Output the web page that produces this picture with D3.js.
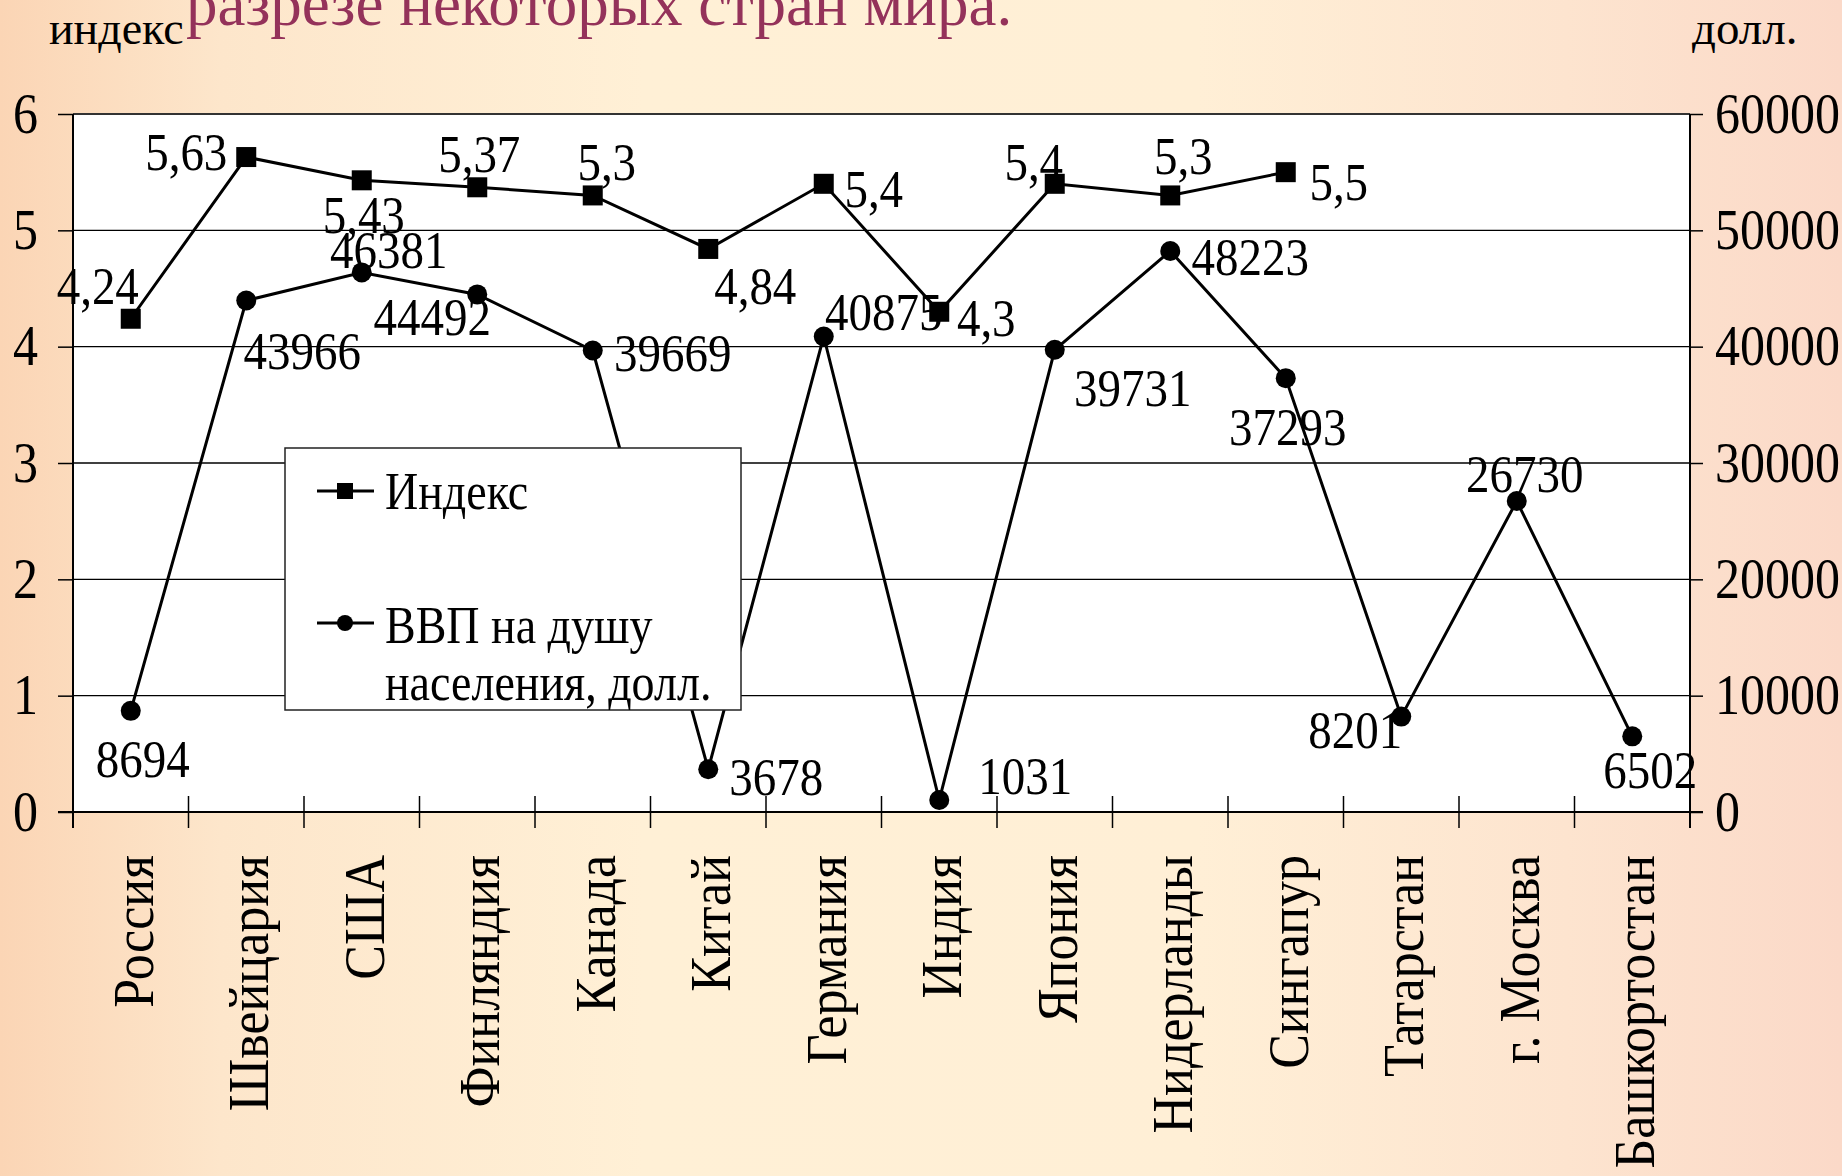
<!DOCTYPE html>
<html>
<head>
<meta charset="utf-8">
<script src="https://cdn.jsdelivr.net/npm/d3@7"></script>
<style>
  html, body { margin: 0; padding: 0; overflow: hidden; }
  svg { display: block; }
  text { font-family: "Liberation Serif", "Times New Roman", serif; fill: #000; }
</style>
</head>
<body>
<svg id="chart" width="1842" height="1176"></svg>
<script>
// ---------------- data ----------------
const categories = ["Россия", "Швейцария", "США", "Финляндия", "Канада", "Китай", "Германия",
  "Индия", "Япония", "Нидерланды", "Сингапур", "Татарстан", "г. Москва", "Башкортостан"];
const indexValues = [4.24, 5.63, 5.43, 5.37, 5.3, 4.84, 5.4, 4.3, 5.4, 5.3, 5.5, null, null, null];
const gdpValues = [8694, 43966, 46381, 44492, 39669, 3678, 40875, 1031, 39731, 48223, 37293, 8201, 26730, 6502];
const leftTicks = [0, 1, 2, 3, 4, 5, 6];
const rightTicks = [0, 10000, 20000, 30000, 40000, 50000, 60000];
const titleText = "разрезе некоторых стран мира.";
const leftAxisTitle = "индекс";
const rightAxisTitle = "долл.";
const legendIndex = "Индекс";
const legendGdp = ["ВВП на душу", "населения, долл."];

// label offsets (pixels) relative to the marker
const indexLabelOffsets = [[-33,-33],[-60,-6],[2,34],[2,-34],[14,-34],[47,36],[50,5],[47,6],[-21,-22],[13,-40],[53,9]];
const gdpLabelOffsets = [[12,48],[56,50],[27,-23],[-45,22],[80,2],[68,7],[60,-25],[86,-25],[78,38],[80,5],[2,48],[-46,13],[8,-28],[18,33]];

// ---------------- layout ----------------
const W = 1842, H = 1176;
const L = 73, R = 1690, T = 114, B = 812;
const SY = 1.13; // vertical stretch of the original slide's text
const svg = d3.select("#chart");

// background
const defs = svg.append("defs");
const bg = defs.append("linearGradient").attr("id", "bg").attr("x1", "0").attr("x2", "1").attr("y1", "0").attr("y2", "0");
[["0%", "#fbd5b5"], ["12%", "#fde6cb"], ["35%", "#fff0d6"], ["65%", "#ffefd6"], ["85%", "#fde4cf"], ["100%", "#fbd9c8"]]
  .forEach(([o, c]) => bg.append("stop").attr("offset", o).attr("stop-color", c));
svg.append("rect").attr("width", W).attr("height", H).attr("fill", "url(#bg)");

// scales
const x = d3.scaleBand().domain(categories).range([L, R]).padding(0);
const yL = d3.scaleLinear().domain([0, 6]).range([B, T]);
const yR = d3.scaleLinear().domain([0, 60000]).range([B, T]);
const cx = c => x(c) + x.bandwidth() / 2;

// plot area
svg.append("rect").attr("x", L).attr("y", T).attr("width", R - L).attr("height", B - T).attr("fill", "#fff");

// gridlines
svg.append("g").selectAll("line").data(leftTicks.filter(d => d > 0)).join("line")
  .attr("x1", L).attr("x2", R).attr("y1", d => yL(d)).attr("y2", d => yL(d))
  .attr("stroke", d => d === 6 ? "#333" : "#000").attr("stroke-width", d => d === 6 ? 2 : 1.3);

// left axis
const gl = svg.append("g").attr("transform", `translate(${L},0)`)
  .call(d3.axisLeft(yL).tickValues(leftTicks).tickSize(15).tickPadding(20).tickFormat(d3.format("d")));
gl.select(".domain").remove();
gl.selectAll(".tick line").attr("stroke", "#000").attr("stroke-width", 1.5);
gl.selectAll(".tick text").attr("font-size", 50).attr("font-family", "Liberation Serif").attr("fill", "#000")
  .attr("transform", `scale(1,${SY})`);

// right axis
const gr = svg.append("g").attr("transform", `translate(${R},0)`)
  .call(d3.axisRight(yR).tickValues(rightTicks).tickSize(13).tickPadding(12).tickFormat(d3.format("d")));
gr.select(".domain").remove();
gr.selectAll(".tick line").attr("stroke", "#000").attr("stroke-width", 1.5);
gr.selectAll(".tick text").attr("font-size", 50).attr("font-family", "Liberation Serif").attr("fill", "#000")
  .attr("transform", `scale(1,${SY})`);

// axis lines
svg.append("line").attr("x1", L).attr("x2", L).attr("y1", T).attr("y2", B + 16).attr("stroke", "#000").attr("stroke-width", 2);
svg.append("line").attr("x1", R).attr("x2", R).attr("y1", T).attr("y2", B + 16).attr("stroke", "#000").attr("stroke-width", 2);
svg.append("line").attr("x1", L - 15).attr("x2", R + 13).attr("y1", B).attr("y2", B).attr("stroke", "#000").attr("stroke-width", 2);

// category boundary ticks (crossing)
const bounds = categories.map(c => x(c)).concat([x.range()[1]]);
svg.append("g").selectAll("line").data(bounds).join("line")
  .attr("x1", d => d).attr("x2", d => d).attr("y1", B - 16).attr("y2", B + 16)
  .attr("stroke", "#000").attr("stroke-width", 1.5);

// category labels
const gb = svg.append("g").attr("transform", `translate(0,${B})`)
  .call(d3.axisBottom(x).tickSize(0).tickPadding(0));
gb.select(".domain").remove();
gb.selectAll(".tick text")
  .attr("font-size", 52).attr("font-family", "Liberation Serif").attr("fill", "#000")
  .attr("text-anchor", "end")
  .attr("transform", `translate(3,43) scale(1.08,1) rotate(-90)`)
  .attr("x", 0).attr("y", 0).attr("dy", "0.34em");

// lines
const lineIdx = d3.line().defined(d => d.v != null).x(d => cx(d.c)).y(d => yL(d.v));
const lineGdp = d3.line().x(d => cx(d.c)).y(d => yR(d.v));
const idxData = categories.map((c, i) => ({ c, v: indexValues[i], i }));
const gdpData = categories.map((c, i) => ({ c, v: gdpValues[i], i }));

svg.append("path").datum(gdpData).attr("d", lineGdp).attr("fill", "none").attr("stroke", "#000").attr("stroke-width", 3);
svg.append("path").datum(idxData).attr("d", lineIdx).attr("fill", "none").attr("stroke", "#000").attr("stroke-width", 3);

// markers
const sq = 20;
svg.append("g").selectAll("rect").data(idxData.filter(d => d.v != null)).join("rect")
  .attr("x", d => cx(d.c) - sq / 2).attr("y", d => yL(d.v) - sq / 2).attr("width", sq).attr("height", sq).attr("fill", "#000");
svg.append("g").selectAll("circle").data(gdpData).join("circle")
  .attr("cx", d => cx(d.c)).attr("cy", d => yR(d.v)).attr("r", 10).attr("fill", "#000");

// helper for vertically stretched text
function stretchedText(parent, xPos, yPos, str, size, anchor) {
  const g = parent.append("g").attr("transform", `translate(${xPos},${yPos}) scale(1,${SY})`);
  return g.append("text").attr("x", 0).attr("y", 0).attr("dy", "0.35em")
    .attr("text-anchor", anchor || "start").attr("font-size", size).text(str);
}

// legend (covers lines behind it)
const lg = svg.append("g");
lg.append("rect").attr("x", 285).attr("y", 448).attr("width", 456).attr("height", 262)
  .attr("fill", "#fff").attr("stroke", "#222").attr("stroke-width", 1.5);
lg.append("line").attr("x1", 317).attr("x2", 374).attr("y1", 491).attr("y2", 491).attr("stroke", "#000").attr("stroke-width", 3);
lg.append("rect").attr("x", 337).attr("y", 483).attr("width", 16).attr("height", 16).attr("fill", "#000");
stretchedText(lg, 385, 491, legendIndex, 46);
lg.append("line").attr("x1", 317).attr("x2", 374).attr("y1", 623).attr("y2", 623).attr("stroke", "#000").attr("stroke-width", 3);
lg.append("circle").attr("cx", 345).attr("cy", 623).attr("r", 8).attr("fill", "#000");
stretchedText(lg, 385, 625, legendGdp[0], 46);
stretchedText(lg, 385, 682, legendGdp[1], 46);

// data labels
const fmtIdx = v => String(v).replace(".", ",");
const gLab = svg.append("g");
idxData.filter(d => d.v != null).forEach(d => {
  stretchedText(gLab, cx(d.c) + indexLabelOffsets[d.i][0], yL(d.v) + indexLabelOffsets[d.i][1], fmtIdx(d.v), 47, "middle");
});
gdpData.forEach(d => {
  stretchedText(gLab, cx(d.c) + gdpLabelOffsets[d.i][0], yR(d.v) + gdpLabelOffsets[d.i][1], String(d.v), 47, "middle");
});

// titles
svg.append("text").attr("x", 186).attr("y", 25).attr("font-size", 63)
  .style("fill", "#94325a").text(titleText);
svg.append("text").attr("x", 49).attr("y", 44).attr("font-size", 46).text(leftAxisTitle);
svg.append("text").attr("x", 1692).attr("y", 44).attr("font-size", 47).text(rightAxisTitle);
</script>
</body>
</html>
